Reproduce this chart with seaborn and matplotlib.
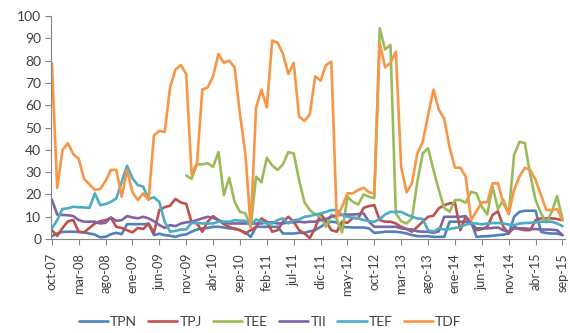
import numpy as np
import pandas as pd
import matplotlib
matplotlib.use("Agg")
import matplotlib.pyplot as plt
import seaborn as sns

tick_labels = ["oct-07", "mar-08", "ago-08", "ene-09", "jun-09", "nov-09", "abr-10",
               "sep-10", "feb-11", "jul-11", "dic-11", "may-12", "oct-12", "mar-13",
               "ago-13", "ene-14", "jun-14", "nov-14", "abr-15", "sep-15"]

series_names = ["TPN", "TPJ", "TEE", "TII", "TEF", "TDF"]

TPN = [1.3, 2.5, 3.2, 3.3, 3.3, 3.2, 3.0, 2.5, 2.0, 0.8, 1.0, 2.2, 2.8, 2.2, 6.7, 6.7,
       6.7, 6.7, 6.8, 1.8, 2.4, 1.8, 1.5, 1.0, 1.8, 2.1, 3.3, 4.3, 4.8, 5.0, 5.5, 5.5,
       5.2, 4.8, 4.8, 4.0, 3.0, 1.0, 5.5, 5.5, 5.5, 5.5, 5.5, 2.5, 2.5, 2.5, 2.8, 2.8,
       3.5, 4.0, 5.5, 7.0, 7.8, 7.5, 5.5, 5.3, 5.2, 5.2, 5.2, 4.8, 2.8, 3.0, 3.3, 3.3,
       3.3, 3.0, 2.5, 1.8, 1.3, 1.3, 1.3, 1.0, 1.0, 1.0, 7.8, 7.8, 7.8, 7.8, 7.8, 1.0,
       1.2, 1.3, 1.5, 1.8, 2.0, 2.5, 10.0, 12.2, 12.7, 12.7, 12.7, 3.3, 2.7, 2.5, 2.5, 1.8]

TPJ = [4, 1.5, 5, 8, 8.5, 3.3, 3, 5, 7, 8, 8.5, 9.5, 5.5, 5, 4, 3,
       5, 4.5, 7, 2.8, 13, 14.3, 15, 18, 16.4, 15.8, 7.5, 7, 3.3, 7.8, 10.3, 8.5,
       6.7, 5.5, 4.5, 4, 2.5, 4, 5.5, 9.3, 7.8, 3.3, 4, 7.8, 10, 7.8, 4, 2.5,
       0.5, 5, 11.5, 8, 4, 3.3, 7.8, 7.3, 9.5, 9.3, 14, 14.8, 15.2, 8.5, 7.8, 7.8,
       7, 5.5, 4.5, 3.3, 5.5, 7.8, 10, 10.5, 13.8, 15.2, 16, 16.3, 4, 10, 7, 4,
       4.5, 5.5, 10.8, 12.5, 5.5, 2.5, 5.5, 4.5, 4, 4, 8.5, 9.3, 9.3, 9.3, 9, 8.5]

TEE = [np.nan] * 25 + [
       28.5, 27, 33.5, 33.5, 34, 32.4, 39,
       19.7, 27.5, 16.7, 12.2, 11.6, 5.5, 28, 25.5, 36.5, 33, 31, 33.5, 39, 38.4, 26.5, 16.5,
       13, 11, 10, 5.5, 11, 9, 3, 19, 16.7, 15.5, 20, 19, 18.3, 94.5, 85, 87,
       11.5, 8, 7, 9.3, 25.7, 38.4, 40.7, 31, 22, 14, 12.2, 17.5, 17.5, 16.3, 21.2, 20.5,
       14.5, 11, 23.5, 13.5, 17.5, 11.2, 37.7, 43.6, 43, 29, 17.5, 11.5, 7.5, 12.2, 19.3, 9]

TII = [17.8, 11, 10.8, 10.7, 10.3, 8.5, 7.8, 7.8, 7.8, 7, 7.3, 9.7, 8.2, 8.5, 10.3, 9.7,
       9.3, 10, 9.3, 8, 6.3, 5, 6.3, 5.8, 7, 7.5, 7.8, 8.5, 9.3, 10, 9.5, 8.5,
       7.5, 7, 7, 7, 7, 7, 7, 7, 7.5, 7.5, 7, 7, 7.5, 7.5, 7.8, 7.5,
       7.8, 7.8, 8.5, 9, 10, 10.8, 10.8, 11, 11, 11.2, 11.5, 7.8, 5.5, 5.5, 5.5, 5.5,
       5.5, 4.8, 4.5, 4.3, 3.5, 3.3, 3.3, 2.8, 3.5, 10, 10, 10, 10, 10.3, 7, 4.8,
       4.8, 4.8, 5, 5.2, 4, 3.3, 4.8, 4.8, 4.8, 4.5, 4.5, 4.3, 4.3, 4.2, 4, 1.8]

TEF = [4.8, 8.5, 13.5, 13.8, 14.5, 14.3, 14.2, 14, 20.5, 15.2, 15.7, 16.7, 18.2, 25.7, 32.9, 27.2,
       24.2, 23.5, 18, 18.7, 16.7, 7.8, 3.3, 3.7, 4.3, 4.3, 7.3, 7.2, 7, 7, 7, 7.8,
       7.8, 7.8, 8.5, 8.3, 8.2, 6.3, 8.8, 7.8, 7, 7, 8.5, 9.3, 7, 8.5, 8.8, 10,
       10.3, 11, 11.5, 12.2, 13, 13, 10.8, 10, 9.6, 9.3, 8.5, 8, 7.8, 9, 11, 12.2,
       12.2, 12.2, 11, 10, 9.3, 9, 4, 3.3, 4.8, 4.3, 4.5, 5, 5.5, 6.5, 7, 7,
       6.6, 7, 7.2, 7.2, 7, 6.5, 6.3, 7, 7.2, 7.3, 7.5, 7.8, 7.8, 7.8, 7, 5.8]

TDF = [79, 23, 40, 43, 38, 36, 27, 24.5, 22, 22.5, 26, 31, 31, 19, 31, 21,
       17.5, 20.5, 17.5, 46.5, 48.5, 48, 68, 76, 78, 74, 29, 34, 67, 68, 73, 83,
       79, 80, 77, 56, 38.5, 5.5, 59, 67, 59, 89, 88, 83, 74, 79, 55, 53,
       56, 73, 71, 78, 79.5, 9.5, 14.5, 20.5, 20.5, 22, 23, 21, 20.5, 88, 77, 79,
       84, 32, 21, 25, 38.5, 43.5, 55.5, 67, 58, 54, 41, 32, 32, 28, 8.5, 12.5,
       16.5, 16.5, 25, 25, 16, 11.5, 22, 28, 32, 31, 26.5, 19.7, 13, 13, 13.5, 8.5]

colors = ["#4F81BD", "#C0504D", "#9BBB59", "#8064A2", "#4BACC6", "#F79646"]

data = {"TPN": TPN, "TPJ": TPJ, "TEE": TEE, "TII": TII, "TEF": TEF, "TDF": TDF}
n = len(TPN)
frames = []
for name in series_names:
    frames.append(pd.DataFrame({"mes": np.arange(n), "valor": data[name], "serie": name}))
df = pd.concat(frames, ignore_index=True)

sns.set_style("white")
plt.rcParams["font.family"] = ["Lato", "DejaVu Sans"]

fig = plt.figure(figsize=(5.7, 3.33), dpi=100)
ax = fig.add_axes([0.0895, 0.282, 0.902, 0.670])

sns.lineplot(data=df, x="mes", y="valor", hue="serie", hue_order=series_names,
             palette=colors, linewidth=1.9, ax=ax, legend=True, estimator=None,
             sort=False)

ax.set_xlim(-0.15, 95.5)
ax.set_ylim(0, 100)
ax.set_yticks(range(0, 101, 10))
ax.set_xticks(range(0, n, 5))
ax.set_xticklabels(tick_labels, rotation=90, fontsize=9.2, color="#404040")
ax.tick_params(axis="y", labelsize=10, colors="#404040", length=4, width=0.8,
               direction="out", left=True, color="#868686", pad=3)
ax.tick_params(axis="x", length=4, width=0.8, direction="out", bottom=True,
               color="#868686", pad=6)
for lbl in ax.get_yticklabels():
    lbl.set_color("#404040")
ax.set_xlabel("")
ax.set_ylabel("")
for s in ["top", "right"]:
    ax.spines[s].set_visible(False)
for s in ["left", "bottom"]:
    ax.spines[s].set_color("#868686")
    ax.spines[s].set_linewidth(0.8)

handles, labels = ax.get_legend_handles_labels()
ax.legend(handles, labels, loc="center", bbox_to_anchor=(0.474, 0.033),
          bbox_transform=fig.transFigure, ncol=6, frameon=False, fontsize=10,
          handlelength=2.1, columnspacing=0.8, handletextpad=0.15,
          labelcolor="#404040")

fig.savefig("out.png", dpi=100)
